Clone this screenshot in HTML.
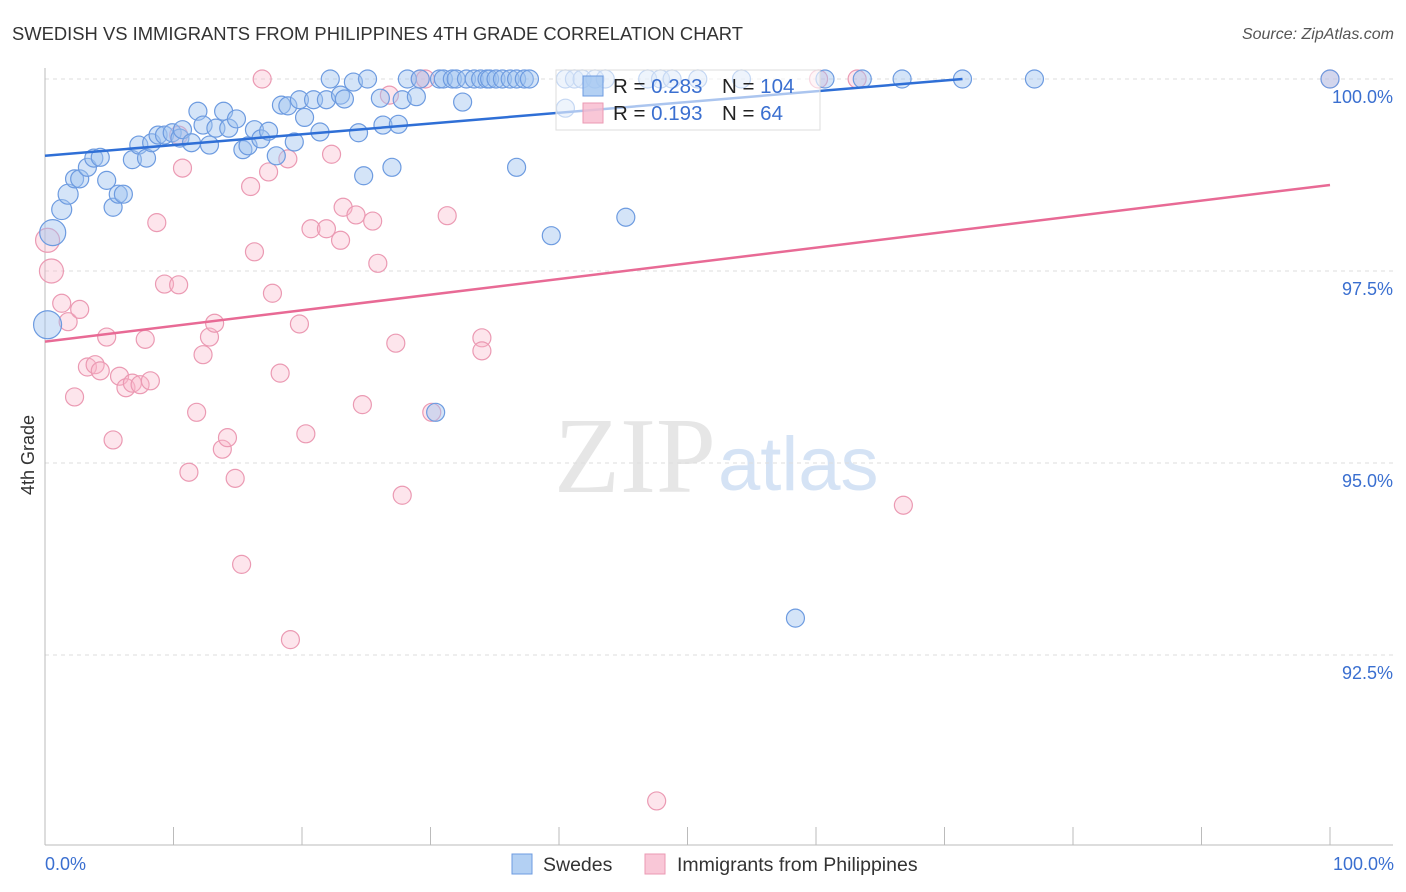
<!DOCTYPE html>
<html><head><meta charset="utf-8"><style>
body{margin:0;background:#fff;font-family:"Liberation Sans",sans-serif}
svg{display:block}
</style></head><body>
<svg id="chart" width="1406" height="892">
<text x="12" y="40" font-size="18.4" fill="#333">SWEDISH VS IMMIGRANTS FROM PHILIPPINES 4TH GRADE CORRELATION CHART</text>
<text x="1394" y="39" font-size="16" fill="#555" font-style="italic" text-anchor="end">Source: ZipAtlas.com</text>
<text x="716" y="492" font-size="108" fill="#e6e6e6" text-anchor="end" font-family="Liberation Serif,serif">ZIP</text>
<text x="718" y="490" font-size="76" fill="#d5e3f5">atlas</text>
<text x="34" y="455" font-size="18" fill="#333" text-anchor="middle" transform="rotate(-90 34 455)">4th Grade</text>
<g id="grid"></g><g id="pink"></g><g id="blue"></g><g id="lines"></g>
<g>
<rect x="556" y="70" width="264" height="60" fill="rgba(255,255,255,0.6)" stroke="#ddd"/>
<rect x="583" y="76" width="20" height="20" fill="rgba(160,196,240,0.8)" stroke="#6d9be0"/>
<rect x="583" y="103" width="20" height="20" fill="rgba(248,185,205,0.8)" stroke="#eb9ab3"/>
<text x="613" y="93" font-size="20.5" fill="#222">R = <tspan fill="#3a6fd0">0.283</tspan></text>
<text x="722" y="93" font-size="20.5" fill="#222">N = <tspan fill="#3a6fd0">104</tspan></text>
<text x="613" y="120" font-size="20.5" fill="#222">R =  <tspan fill="#3a6fd0">0.193</tspan></text>
<text x="722" y="120" font-size="20.5" fill="#222">N =   <tspan fill="#3a6fd0">64</tspan></text>
</g>
<g>
<rect x="512" y="854" width="20" height="20" fill="rgba(160,196,240,0.8)" stroke="#6d9be0"/>
<text x="543" y="871" font-size="19.5" fill="#333">Swedes</text>
<rect x="645" y="854" width="20" height="20" fill="rgba(248,185,205,0.8)" stroke="#eb9ab3"/>
<text x="677" y="871" font-size="19.5" fill="#333">Immigrants from Philippines</text>
</g>
<text x="45" y="870" font-size="18" fill="#3a6fd0">0.0%</text>
<text x="1394" y="870" font-size="18" fill="#3a6fd0" text-anchor="end">100.0%</text>
</svg>
<script>
const yTicks=[100,97.5,95,92.5];
const yTickLabels=["100.0%","97.5%","95.0%","92.5%"];
const xTicks=[0,10,20,30,40,50,60,70,80,90,100];
const blueX=[0.2,0.6,1.3,1.8,2.3,2.7,3.3,3.8,4.3,4.8,5.3,5.7,6.1,6.8,7.3,7.9,8.3,8.8,9.3,9.9,10.5,10.7,11.4,11.9,12.3,12.8,13.3,13.9,14.3,14.9,15.4,15.8,16.3,16.8,17.4,18.0,18.4,18.9,19.4,19.8,20.2,20.9,21.4,21.9,22.2,23.0,23.3,24.0,24.4,24.8,25.1,26.1,26.3,27.0,27.5,27.8,28.2,28.9,29.2,30.4,30.7,31.0,31.7,32.0,32.5,32.8,33.4,33.9,34.4,34.6,35.1,35.6,36.2,36.7,36.7,37.3,37.7,39.4,40.5,41.2,41.8,42.8,43.6,45.2,46.9,47.9,48.8,50.8,54.2,58.4,60.7,63.6,66.7,71.4,77.0,100,40.5];
const blueY=[96.8,98.0,98.3,98.5,98.7,98.7,98.85,98.97,98.98,98.68,98.33,98.5,98.5,98.95,99.14,98.97,99.17,99.27,99.27,99.3,99.23,99.34,99.17,99.58,99.4,99.14,99.36,99.58,99.36,99.48,99.08,99.13,99.34,99.22,99.32,99.0,99.66,99.65,99.18,99.73,99.5,99.73,99.31,99.73,100,99.79,99.74,99.96,99.3,98.74,100,99.75,99.4,98.85,99.41,99.73,100,99.77,100,95.66,100,100,100,100,99.7,100,100,100,100,100,100,100,100,98.85,100,100,100,97.96,100,100,100,100,100,98.2,100,100,100,100,100,92.98,100,100,100,100,100,100,99.62];
const blueR=[14,13,10,10,9,9,9,9,9,9,9,9,9,9,9,9,9,9,9,9,9,9,9,9,9,9,9,9,9,9,9,9,9,9,9,9,9,9,9,9,9,9,9,9,9,9,9,9,9,9,9,9,9,9,9,9,9,9,9,9,9,9,9,9,9,9,9,9,9,9,9,9,9,9,9,9,9,9,9,9,9,9,9,9,9,9,9,9,9,9,9,9,9,9,9,9,9];
const pinkX=[16.9,0.2,0.5,1.3,1.8,2.7,2.3,3.3,3.9,4.3,4.8,5.3,5.8,6.3,6.8,7.4,7.8,8.2,8.7,9.3,10.4,10.4,10.7,11.2,11.8,12.3,12.8,13.2,13.8,14.2,14.8,15.3,16.0,16.3,17.4,17.7,18.3,18.9,19.1,19.8,20.3,20.7,21.9,22.3,23.0,23.2,24.2,24.7,25.5,25.9,26.8,27.3,27.8,29.2,29.6,30.1,31.3,34.0,34.0,47.6,60.2,63.2,66.8,100];
const pinkY=[100,97.9,97.5,97.08,96.84,97.0,95.86,96.25,96.28,96.2,96.64,95.3,96.13,95.98,96.04,96.02,96.61,96.07,98.13,97.33,97.32,99.27,98.84,94.88,95.66,96.41,96.64,96.82,95.18,95.33,94.8,93.68,98.6,97.75,98.79,97.21,96.17,98.96,92.7,96.81,95.38,98.05,98.05,99.02,97.9,98.33,98.23,95.76,98.15,97.6,99.79,96.56,94.58,100,100,95.66,98.22,96.63,96.46,90.6,100,100,94.45,100];
const blueTrend=[[0,99.0],[71.4,100]];
const pinkTrend=[[0,96.58],[100,98.62]];
const NS="http://www.w3.org/2000/svg";
const X=v=>45+v*12.85, Y=v=>79+(100-v)*76.8;
function mk(t,a,p){const e=document.createElementNS(NS,t);for(const k in a)e.setAttribute(k,a[k]);p.appendChild(e);return e;}
const g=document.getElementById('grid');
yTicks.forEach((t,i)=>{
 const l=mk('line',{x1:45,x2:1393,y1:Y(t),y2:Y(t),stroke:'#ddd','stroke-dasharray':'4,4'},g);
 
 
 const tx=mk('text',{x:1393,y:Y(t)+24,'font-size':18,fill:'#3a6fd0','text-anchor':'end'},g);
 tx.textContent=yTickLabels[i];
 
 
});
const ax=mk('line',{x1:45,x2:1393,y1:845,y2:845,stroke:'#bbb'},g);


const ay=mk('line',{x1:45,x2:45,y1:68,y2:845,stroke:'#bbb'},g);


xTicks.forEach(t=>{
 const l=mk('line',{x1:X(t),x2:X(t),y1:827,y2:845,stroke:'#bbb'},g);
 
 
});
const pg=document.getElementById('pink');
pinkX.forEach((x,i)=>{
 const r=(i===1||i===2)?12:9;
 const c=mk('circle',{cx:X(x),cy:Y(pinkY[i]),r:r,fill:'rgba(248,180,200,0.35)',stroke:'#eb9ab3','stroke-width':1.2},pg);
 
 
});
const bg=document.getElementById('blue');
blueX.forEach((x,i)=>{
 const c=mk('circle',{cx:X(x),cy:Y(blueY[i]),r:blueR[i]||9,fill:'rgba(160,196,240,0.45)',stroke:'#6d9be0','stroke-width':1.2},bg);
 
 
});
const lg=document.getElementById('lines');
const bl=mk('line',{x1:X(blueTrend[0][0]),y1:Y(blueTrend[0][1]),x2:X(blueTrend[1][0]),y2:Y(blueTrend[1][1]),stroke:'#2f6fd6','stroke-width':2.5},lg);


const pl=mk('line',{x1:X(pinkTrend[0][0]),y1:Y(pinkTrend[0][1]),x2:X(pinkTrend[1][0]),y2:Y(pinkTrend[1][1]),stroke:'#e86a95','stroke-width':2.5},lg);


</script>
</body></html>
